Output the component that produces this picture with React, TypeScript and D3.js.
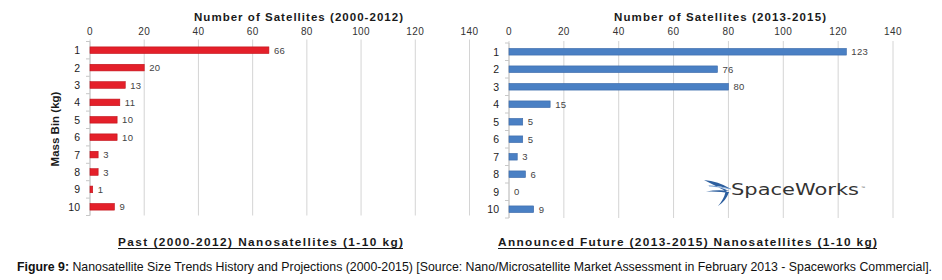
import React from "react";
import * as d3 from "d3";

const categories = ["1", "2", "3", "4", "5", "6", "7", "8", "9", "10"];
const pastValues = [66, 20, 13, 11, 10, 10, 3, 3, 1, 9];
const futureValues = [123, 76, 80, 15, 5, 5, 3, 6, 0, 9];
const xTicks = [0, 20, 40, 60, 80, 100, 120, 140];

const pastTitle = "Number of Satellites (2000-2012)";
const futureTitle = "Number of Satellites (2013-2015)";
const pastSubtitle = "Past (2000-2012) Nanosatellites (1-10 kg)";
const futureSubtitle = "Announced Future (2013-2015) Nanosatellites (1-10 kg)";
const yAxisTitle = "Mass Bin (kg)";
const captionBold = "Figure 9:";
const captionText =
  " Nanosatellite Size Trends History and Projections (2000-2015) [Source: Nano/Microsatellite Market Assessment in February 2013 - Spaceworks Commercial].";

const FONT = "'Liberation Sans', Arial, sans-serif";

type PanelProps = {
  x0: number;
  x1: number;
  y0: number;
  y1: number;
  values: number[];
  color: string;
  stroke: string;
  title: string;
  titleX: number;
  titleLen: number;
};

function Panel({ x0, x1, y0, y1, values, color, stroke, title, titleX, titleLen }: PanelProps) {
  const x = d3.scaleLinear().domain([0, 140]).range([x0, x1]);
  const y = d3.scaleBand<string>().domain(categories).range([y0, y1]).paddingInner(0.62).paddingOuter(0.31);
  const fullStep = (y1 - y0) / categories.length;
  return (
    <g>
      <text x={titleX - titleLen / 2} y={21} fontFamily={FONT} fontWeight="bold" fontSize={11.5} fill="#1a1a1a" textLength={titleLen} lengthAdjust="spacing">
        {title}
      </text>
      {xTicks.map((t) => (
        <g key={t}>
          <line x1={x(t)} x2={x(t)} y1={y0 - 2} y2={y1} stroke="#d4d4d4" strokeWidth={1} />
          <text x={x(t)} y={35} textAnchor="middle" fontFamily={FONT} fontSize={10} fill="#333" letterSpacing={0.4}>
            {t}
          </text>
        </g>
      ))}
      <line x1={x0} x2={x0} y1={y0} y2={y1} stroke="#c8c8c8" />
      {d3.range(categories.length + 1).map((i) => (
        <line key={i} x1={x0 - 4} x2={x0} y1={y0 + i * fullStep} y2={y0 + i * fullStep} stroke="#c8c8c8" />
      ))}
      {categories.map((c, i) => {
        const cy = (y(c) as number) + y.bandwidth() / 2;
        return (
          <g key={c}>
            <text x={x0 - 10} y={cy + 4} textAnchor="end" fontFamily={FONT} fontSize={10.5} fill="#222">
              {c}
            </text>
            {values[i] > 0 && (
              <rect x={x(0)} y={y(c)} width={x(values[i]) - x(0)} height={y.bandwidth()} fill={color} stroke={stroke} strokeWidth={0.6} />
            )}
            <text x={x(values[i]) + 5} y={cy + 3.5} fontFamily={FONT} fontSize={9.5} fill="#444" letterSpacing={0.3}>
              {values[i]}
            </text>
          </g>
        );
      })}
    </g>
  );
}

function Subtitle({ x, len, text }: { x: number; len: number; text: string }) {
  return (
    <g>
      <text x={x} y={246} fontFamily={FONT} fontWeight="bold" fontSize={11.8} fill="#1a1a1a" textLength={len} lengthAdjust="spacing">
        {text}
      </text>
      <line x1={x} x2={x + len} y1={248.5} y2={248.5} stroke="#1a1a1a" strokeWidth={1} />
    </g>
  );
}

export default function App() {
  return (
    <svg width={942} height={280} style={{ position: "absolute", left: 0, top: 0, background: "#fff" }}>
      <rect width={942} height={280} fill="#fff" />
      <Panel x0={90} x1={469.5} y0={41.5} y1={215.5} values={pastValues} color="#e4202a" stroke="#c01018" title={pastTitle} titleX={298.5} titleLen={209} />
      <Panel x0={509} x1={893} y0={43} y1={218} values={futureValues} color="#4a80c4" stroke="#3a68a8" title={futureTitle} titleX={720} titleLen={212} />
      <text transform="translate(59,129) rotate(-90)" textAnchor="middle" fontFamily={FONT} fontWeight="bold" fontSize={11.5} fill="#1a1a1a">
        {yAxisTitle}
      </text>
      <Subtitle x={118} len={285} text={pastSubtitle} />
      <Subtitle x={498} len={379} text={futureSubtitle} />
      <g>
        <path d="M704,180 Q718,181 731,189 Q719,185 707,185.5 Q719,186 729,191 Q718,189.5 706,191.5 Q720,191 729.5,193 Z" fill="#2c5e9e" />
        <path d="M729,192 Q726,201 718,206 Q724,199 725.5,192 Z" fill="#2c5e9e" />
        <path d="M709,186 Q720,186.5 731,189" fill="none" stroke="#6f9bd0" strokeWidth={0.8} />
        <text x={731} y={195} fontFamily="'DejaVu Sans', sans-serif" fontSize={15} fill="#333" textLength={128} lengthAdjust="spacingAndGlyphs">
          SpaceWorks
        </text>
        <text x={861} y={189} fontFamily={FONT} fontSize={4} fill="#555">™</text>
      </g>
      <text x={17} y={271} fontFamily={FONT} fontSize={12.4} fill="#111" textLength={915} lengthAdjust="spacingAndGlyphs">
        <tspan fontWeight="bold">{captionBold}</tspan>
        <tspan>{captionText}</tspan>
      </text>
    </svg>
  );
}
